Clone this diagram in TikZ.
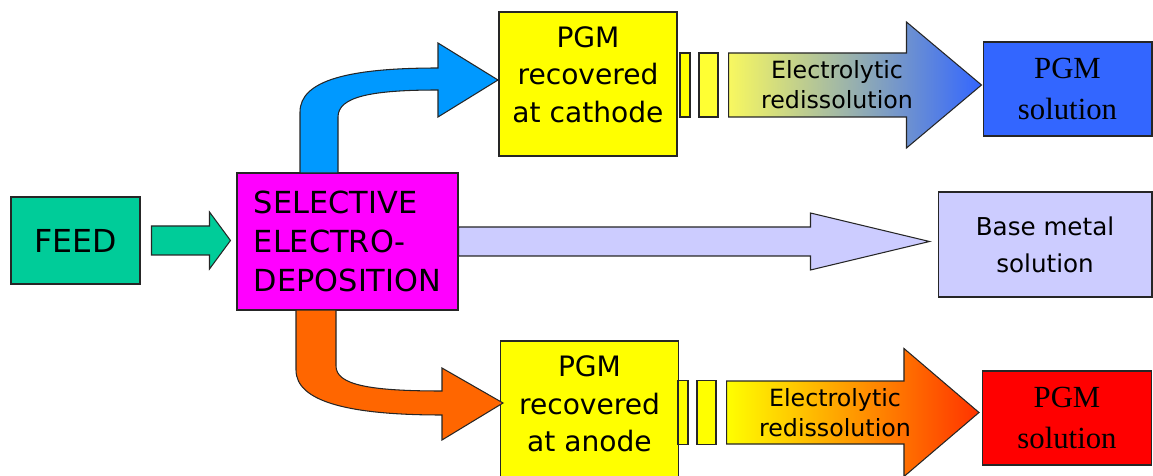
\documentclass[tikz,border=0pt]{standalone}
\usepackage{fontspec}
\setmainfont{DejaVu Sans}
\newfontfamily\pgmserif{Liberation Serif}
\usetikzlibrary{calc}
\definecolor{feedgreen}{HTML}{00CC99}
\definecolor{magbox}{HTML}{FF00FF}
\definecolor{cathblue}{HTML}{0099FF}
\definecolor{pgmyellow}{HTML}{FFFF00}
\definecolor{paleyellow}{HTML}{FFFF33}
\definecolor{lightyellow}{HTML}{F8F860}
\definecolor{solblue}{HTML}{3366FF}
\definecolor{baselilac}{HTML}{CCCCFF}
\definecolor{anodeorange}{HTML}{FF6600}
\definecolor{redorange}{HTML}{FF3300}
\definecolor{solred}{HTML}{FF0000}
% straight block arrow: style, from, to, shaft half, head half, head length
\newcommand{\fatarrow}[6]{%
  \path[#1] let \p1=#2, \p2=#3 in
    (\x1,{\y1+#4}) -- ({\x2-#6},{\y1+#4}) -- ({\x2-#6},{\y1+#5}) -- (\x2,\y1)
    -- ({\x2-#6},{\y1-#5}) -- ({\x2-#6},{\y1-#4}) -- (\x1,{\y1-#4}) -- cycle;}

\begin{document}
\begin{tikzpicture}[
    x=0.02cm, y=-0.02cm,
    box/.style={draw=black!85, line width=0.6pt, inner sep=0pt, align=center},
    feedbox/.style={box, fill=feedgreen, minimum width=2.58cm, minimum height=1.74cm, font=\fontsize{18}{21}\selectfont},
    selbox/.style={box, fill=magbox, minimum width=4.42cm, minimum height=2.74cm, align=left, font=\fontsize{17.3}{22}\selectfont},
    pgmbox/.style={box, fill=pgmyellow, minimum width=3.56cm},
    pgmtext/.style={align=center, inner sep=0pt, font=\fontsize{16}{21.3}\selectfont},
    bar/.style={box, minimum height=1.28cm},
    solbox/.style={box, minimum width=3.38cm, minimum height=1.88cm, font=\pgmserif\fontsize{17.5}{23}\selectfont},
    basebox/.style={box, fill=baselilac, minimum width=4.28cm, minimum height=2.1cm, font=\fontsize{14}{21}\selectfont},
    electxt/.style={align=center, inner sep=0pt, font=\fontsize{13.5}{17}\selectfont},
    arr/.style={draw=black!85, line width=0.6pt}
]
\useasboundingbox (0,0) rectangle (1153,476);

% Boxes
\node[feedbox] (feed) at (75.5,240.5) {FEED};
\node[selbox] (sel) at (347.5,241.5) {SELECTIVE\\ELECTRO-\\DEPOSITION};
\node[pgmbox, minimum height=2.88cm] (cath) at (588,84) {};
\node[pgmbox, minimum height=2.74cm] (anode) at (589.5,409.5) {};
\node[pgmtext] (cathtxt) at (588,74.5) {PGM\\recovered\\at cathode};
\node[pgmtext] (anodetxt) at (589.5,404) {PGM\\recovered\\at anode};

% Small bars
\node[bar, fill=pgmyellow, minimum width=0.2cm] (bar1t) at (685,85) {};
\node[bar, fill=paleyellow, minimum width=0.38cm] (bar2t) at (708.5,85) {};
\node[bar, fill=pgmyellow, minimum width=0.2cm] (bar1b) at (683,412.5) {};
\node[bar, fill=pgmyellow, minimum width=0.38cm] (bar2b) at (706.5,412.5) {};

% Products
\node[solbox, fill=solblue] (soltop) at (1067.5,89) {PGM\\solution};
\node[basebox] (base) at (1045,244.5) {Base metal\\solution};
\node[solbox, fill=solred] (solbot) at (1067,418) {PGM\\solution};

% Straight arrows
\fatarrow{arr, fill=feedgreen}{($(feed.east)+(11,0)$)}{($(sel.west)+(-6,0)$)}{14.5*0.02cm}{28.5*0.02cm}{21*0.02cm}
\fatarrow{arr, fill=baselilac}{(sel.east)}{($(base.west)+(-8,0)$)}{14.5*0.02cm}{28.5*0.02cm}{119*0.02cm}
\fatarrow{arr, left color=lightyellow, right color=solblue}{($(bar2t.east)+(10,0)$)}{($(soltop.west)+(-1,0)$)}{32*0.02cm}{63*0.02cm}{75*0.02cm}
\fatarrow{arr, left color=pgmyellow, right color=redorange}{($(bar2b.east)+(10,0)$)}{($(solbot.west)+(-3,0)$)}{31.5*0.02cm}{64*0.02cm}{75*0.02cm}

% Bent arrows
\filldraw[arr, fill=cathblue] (300,173) -- (300,112) .. controls (300,80) and (350,68) .. (438,68)
  -- (438,43) -- (498,80) -- (438,117) -- (438,90) .. controls (370,90) and (338,97) .. (338,117)
  -- (338,173) -- cycle;
\filldraw[arr, fill=anodeorange] (296,310) -- (296,370) .. controls (296,402) and (350,415) .. (442,415)
  -- (442,440) -- (503,403) -- (442,368) -- (442,391) .. controls (370,391) and (336,385) .. (336,366)
  -- (336,310) -- cycle;

% Arrow labels
\node[electxt] (redtop) at (837,85) {Electrolytic\\redissolution};
\node[electxt] (redbot) at (835,412.5) {Electrolytic\\redissolution};
\end{tikzpicture}
\end{document}
